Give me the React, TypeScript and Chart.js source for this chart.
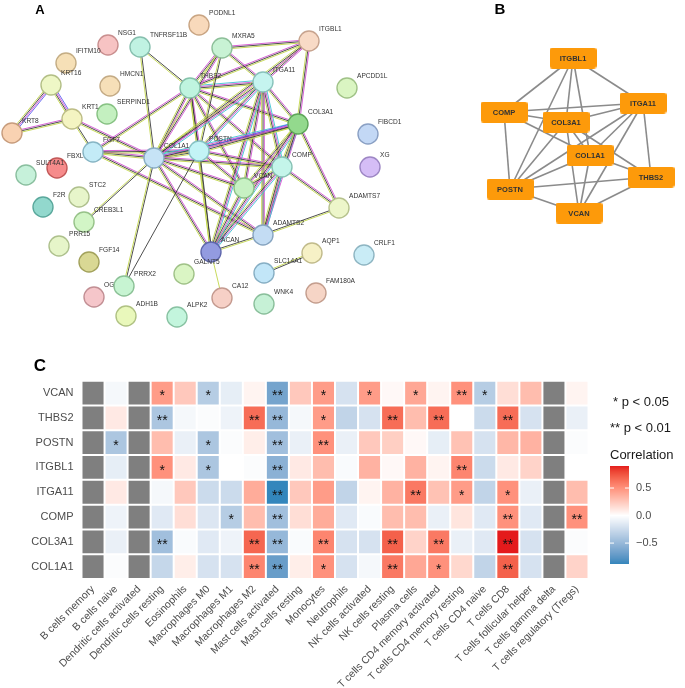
import React, { useEffect, useRef } from 'react';
import { Chart, registerables } from 'chart.js';

Chart.register(...registerables);

const FONT = '"Liberation Sans", Arial, Helvetica, sans-serif';

// ---------------- Panel A: STRING network ----------------
const netNodeNames = ['PODNL1', 'NSG1', 'TNFRSF11B', 'IFITM10', 'KRT16', 'HMCN1', 'THBS2', 'SERPIND1', 'KRT1', 'KRT8', 'FGF7', 'COL1A1', 'POSTN', 'MXRA5', 'ITGA11', 'ITGBL1', 'APCDD1L', 'COL3A1', 'FIBCD1', 'XG', 'COMP', 'VCAN', 'ADAMTS7', 'ADAMTS2', 'ACAN', 'GALNT5', 'SULT4A1', 'FBXL', 'F2R', 'STC2', 'CREB3L1', 'PRR15', 'FGF14', 'PRRX2', 'OGN', 'ADH1B', 'ALPK2', 'CA12', 'AQP1', 'CRLF1', 'SLC14A1', 'FAM180A', 'WNK4'];
const netNodeX = [199, 108, 140, 66, 51, 110, 190, 107, 72, 12, 93, 154, 199, 222, 263, 309, 347, 298, 368, 370, 282, 244, 339, 263, 211, 184, 26, 57, 43, 79, 84, 59, 89, 124, 94, 126, 177, 222, 312, 364, 264, 316, 264];
const netNodeY = [25, 45, 47, 63, 85, 86, 88, 114, 119, 133, 152, 158, 151, 48, 82, 41, 88, 124, 134, 167, 167, 188, 208, 235, 252, 274, 175, 168, 207, 197, 222, 246, 262, 286, 297, 316, 317, 298, 253, 255, 273, 293, 304];
const netNodeFill = ['#f8d9bb', '#f7c3c3', '#c0f2e2', '#f6e0b7', '#eef7c6', '#f6dfb8', '#bff4df', '#c4f0c0', '#f4f4c2', '#f9d2b2', '#c3ebf7', '#c6e3f6', '#c3f4f6', '#c8f2d4', '#c5f4ef', '#f8dac6', '#daf5c2', '#93d98d', '#c3d8f5', '#d5bdf6', '#c4f5ea', '#c7f1c3', '#edf6ca', '#c3dcf3', '#939be0', '#daf5c4', '#c6f1da', '#f68b8b', '#92d8cd', '#e7f5ca', '#d2f5c6', '#e6f5c9', '#d9d894', '#c7f4d2', '#f5c6ca', '#e9f8bb', '#c3f5dd', '#f6d0c6', '#f6f1c6', '#c9ecf6', '#c2e6f8', '#f6d5c6', '#c6f1d6'];
const netNodeBorder = ['#c9a583', '#c98f8f', '#86bfae', '#c4ad84', '#b3bf86', '#c4ab85', '#84c2aa', '#87c283', '#bdbd86', '#c79c7c', '#87b5c4', '#8aaec4', '#87c2c4', '#8dbf99', '#88c2bb', '#c7a38e', '#a0c287', '#5ea659', '#8aa0c4', '#9d86c4', '#88c2b5', '#8bc087', '#b6c28d', '#86a4c0', '#5f67ad', '#a0c288', '#8abf9f', '#c25858', '#5aa89c', '#afc08d', '#97c289', '#aec18d', '#a3a25c', '#8bc196', '#c28f94', '#b0c283', '#88c2a2', '#c49a8f', '#c1bb8b', '#8eb5c2', '#87afc4', '#c49e8e', '#8abf9b'];
// labels that sit underneath a neighbouring node in the reference
const netLabelsUnder = ['FBXL', 'OGN'];
// evidence channels: m = experiments, k = co-expression, y = text-mining, c = databases, b = homology
const netEdges: [string, string, string][] = [
  ['KRT16', 'KRT8', 'bmky'], ['KRT16', 'KRT1', 'bmky'], ['KRT8', 'KRT1', 'mky'], ['KRT1', 'FGF7', 'ky'], ['KRT1', 'COL1A1', 'mky'],
  ['FGF7', 'COL1A1', 'mky'], ['FGF7', 'POSTN', 'mky'], ['FGF7', 'THBS2', 'mky'], ['FGF7', 'ADAMTS2', 'mky'],
  ['TNFRSF11B', 'THBS2', 'ky'], ['TNFRSF11B', 'COL1A1', 'ky'],
  ['THBS2', 'MXRA5', 'mky'], ['THBS2', 'ITGA11', 'cmky'], ['THBS2', 'COL1A1', 'mky'], ['THBS2', 'POSTN', 'mky'], ['THBS2', 'COL3A1', 'mky'], ['THBS2', 'COMP', 'mky'], ['THBS2', 'VCAN', 'mky'], ['THBS2', 'ACAN', 'ky'], ['THBS2', 'ITGBL1', 'mky'],
  ['MXRA5', 'ITGBL1', 'mky'], ['MXRA5', 'ITGA11', 'mky'], ['MXRA5', 'COL1A1', 'mky'], ['MXRA5', 'POSTN', 'ky'],
  ['ITGBL1', 'ITGA11', 'mky'], ['ITGBL1', 'COL3A1', 'mky'], ['ITGBL1', 'COL1A1', 'mky'],
  ['ITGA11', 'COL1A1', 'cmky'], ['ITGA11', 'POSTN', 'cmky'], ['ITGA11', 'COL3A1', 'mky'], ['ITGA11', 'COMP', 'cmky'], ['ITGA11', 'VCAN', 'mky'], ['ITGA11', 'ACAN', 'cmky'], ['ITGA11', 'ADAMTS2', 'mky'],
  ['COL1A1', 'POSTN', 'cmky'], ['COL1A1', 'COL3A1', 'cmky'], ['COL1A1', 'COMP', 'mky'], ['COL1A1', 'VCAN', 'mky'], ['COL1A1', 'ACAN', 'mky'], ['COL1A1', 'ADAMTS2', 'mky'], ['COL1A1', 'PRRX2', 'ky'], ['COL1A1', 'CREB3L1', 'ky'],
  ['POSTN', 'COL3A1', 'bmky'], ['POSTN', 'COMP', 'mky'], ['POSTN', 'VCAN', 'mky'], ['POSTN', 'ACAN', 'ky'], ['POSTN', 'PRRX2', 'k'],
  ['COL3A1', 'COMP', 'cmky'], ['COL3A1', 'VCAN', 'mky'], ['COL3A1', 'ACAN', 'cmky'], ['COL3A1', 'ADAMTS2', 'mky'], ['COL3A1', 'ADAMTS7', 'mky'],
  ['COMP', 'VCAN', 'mky'], ['COMP', 'ACAN', 'cmky'], ['COMP', 'ADAMTS2', 'cmky'], ['COMP', 'ADAMTS7', 'mky'],
  ['VCAN', 'ACAN', 'cmky'], ['ACAN', 'ADAMTS2', 'ky'], ['ACAN', 'CA12', 'y'], ['ADAMTS2', 'ADAMTS7', 'ky'], ['AQP1', 'SLC14A1', 'ky'],
];
const EDGE_COLORS: Record<string, string> = { m: '#d14fd1', k: '#3a3a3a', y: '#c2d64a', c: '#3cc4d2', b: '#5b5bf0' };

// ---------------- Panel B: hub genes ----------------
const hubNames = ['ITGBL1', 'ITGA11', 'COMP', 'COL3A1', 'COL1A1', 'THBS2', 'POSTN', 'VCAN'];
const hubX = [573, 643, 504, 566, 590, 651, 510, 579];
const hubY = [58, 103, 112, 122, 155, 177, 189, 213];
const hubEdges: [string, string][] = [
  ['ITGBL1', 'COMP'], ['ITGBL1', 'ITGA11'], ['ITGBL1', 'POSTN'], ['ITGBL1', 'COL3A1'], ['ITGBL1', 'COL1A1'],
  ['COMP', 'ITGA11'], ['COMP', 'COL3A1'], ['COMP', 'COL1A1'], ['COMP', 'POSTN'],
  ['ITGA11', 'COL3A1'], ['ITGA11', 'COL1A1'], ['ITGA11', 'POSTN'], ['ITGA11', 'VCAN'], ['ITGA11', 'THBS2'],
  ['COL3A1', 'COL1A1'], ['COL3A1', 'POSTN'], ['COL3A1', 'VCAN'], ['COL3A1', 'THBS2'],
  ['COL1A1', 'POSTN'], ['COL1A1', 'THBS2'], ['COL1A1', 'VCAN'],
  ['POSTN', 'THBS2'], ['POSTN', 'VCAN'], ['THBS2', 'VCAN'],
];

// ---------------- Panel C: immune correlation heatmap ----------------
const cellTypes = ['B cells memory', 'B cells naive', 'Dendritic cells activated', 'Dendritic cells resting', 'Eosinophils', 'Macrophages M0', 'Macrophages M1', 'Macrophages M2', 'Mast cells activated', 'Mast cells resting', 'Monocytes', 'Neutrophils', 'NK cells activated', 'NK cells resting', 'Plasma cells', 'T cells CD4 memory activated', 'T cells CD4 memory resting', 'T cells CD4 naive', 'T cells CD8', 'T cells follicular helper', 'T cells gamma delta', 'T cells regulatory (Tregs)'];
const corVCAN = [null, -0.05, null, 0.45, 0.25, -0.35, -0.12, 0.05, -0.65, 0.25, 0.45, -0.2, 0.45, 0.03, 0.4, 0.05, 0.5, -0.35, 0.15, 0.3, null, 0.05];
const sigVCAN = ['', '', '', '*', '', '*', '', '', '**', '', '*', '', '*', '', '*', '', '**', '*', '', '', '', ''];
const corTHBS2 = [null, 0.1, null, -0.4, -0.05, -0.02, -0.08, 0.65, -0.5, -0.05, 0.45, -0.3, -0.2, 0.65, 0.3, 0.65, 0.0, -0.25, 0.65, -0.2, null, -0.1];
const sigTHBS2 = ['', '', '', '**', '', '', '', '**', '**', '', '*', '', '', '**', '', '**', '', '', '**', '', '', ''];
const corPOSTN = [null, -0.4, null, 0.3, -0.1, -0.4, -0.02, 0.08, -0.45, -0.1, 0.5, -0.1, 0.25, 0.22, 0.03, -0.12, 0.28, -0.2, 0.33, 0.35, null, -0.02];
const sigPOSTN = ['', '*', '', '', '', '*', '', '', '**', '', '**', '', '', '', '', '', '', '', '', '', '', ''];
const corITGBL1 = [null, -0.12, null, 0.5, 0.1, -0.4, 0.0, -0.02, -0.55, 0.1, 0.3, -0.03, 0.35, 0.03, 0.35, 0.05, 0.55, -0.25, 0.1, 0.2, null, 0.0];
const sigITGBL1 = ['', '', '', '*', '', '*', '', '', '**', '', '', '', '', '', '', '', '**', '', '', '', '', ''];
const corITGA11 = [null, 0.1, null, -0.05, 0.25, -0.25, -0.25, 0.38, -0.88, 0.25, 0.45, -0.3, 0.05, 0.35, 0.6, 0.28, 0.45, -0.3, 0.5, -0.1, null, 0.3];
const sigITGA11 = ['', '', '', '', '', '', '', '', '**', '', '', '', '', '', '**', '', '*', '', '*', '', '', ''];
const corCOMP = [null, -0.08, null, -0.15, 0.15, -0.17, -0.35, 0.3, -0.45, 0.15, 0.38, -0.15, -0.03, 0.3, 0.3, -0.1, 0.12, -0.15, 0.5, -0.15, null, 0.5];
const sigCOMP = ['', '', '', '', '', '', '*', '', '**', '', '', '', '', '', '', '', '', '', '**', '', '', '**'];
const corCOL3A1 = [null, -0.1, null, -0.45, -0.03, -0.15, -0.08, 0.68, -0.5, -0.03, 0.55, -0.2, -0.2, 0.7, 0.2, 0.6, -0.1, -0.15, 0.9, -0.2, null, -0.02];
const sigCOL3A1 = ['', '', '', '**', '', '', '', '**', '**', '', '**', '', '', '**', '', '**', '', '', '**', '', '', ''];
const corCOL1A1 = [null, -0.02, null, -0.28, 0.08, -0.2, -0.2, 0.55, -0.7, 0.08, 0.5, -0.2, -0.05, 0.6, 0.4, 0.5, 0.18, -0.3, 0.7, -0.2, null, 0.2];
const sigCOL1A1 = ['', '', '', '', '', '', '', '**', '**', '', '*', '', '', '**', '', '*', '', '', '**', '', '', ''];

const heatRows: { name: string; cor: (number | null)[]; sig: string[] }[] = [
  { name: 'VCAN', cor: corVCAN, sig: sigVCAN },
  { name: 'THBS2', cor: corTHBS2, sig: sigTHBS2 },
  { name: 'POSTN', cor: corPOSTN, sig: sigPOSTN },
  { name: 'ITGBL1', cor: corITGBL1, sig: sigITGBL1 },
  { name: 'ITGA11', cor: corITGA11, sig: sigITGA11 },
  { name: 'COMP', cor: corCOMP, sig: sigCOMP },
  { name: 'COL3A1', cor: corCOL3A1, sig: sigCOL3A1 },
  { name: 'COL1A1', cor: corCOL1A1, sig: sigCOL1A1 },
];
const colorbarTicks = [0.5, 0.0, -0.5];

// ---------- colour helpers (Lab interpolation like ggplot gradient2) ----------
const LOW = '#2b83ba';
const HIGH = '#e41a1c';
const NA_GRAY = '#7f7f7f';
function hexToRgb(h: string) { const n = parseInt(h.slice(1), 16); return [(n >> 16) & 255, (n >> 8) & 255, n & 255]; }
function toLin(c: number) { c /= 255; return c <= 0.04045 ? c / 12.92 : Math.pow((c + 0.055) / 1.055, 2.4); }
function fromLin(c: number) { const v = c <= 0.0031308 ? 12.92 * c : 1.055 * Math.pow(Math.max(c, 0), 1 / 2.4) - 0.055; return Math.round(Math.max(0, Math.min(1, v)) * 255); }
function rgbToLab(rgb: number[]) {
  const R = toLin(rgb[0]), G = toLin(rgb[1]), B = toLin(rgb[2]);
  const X = (0.4124 * R + 0.3576 * G + 0.1805 * B) / 0.95047;
  const Y = 0.2126 * R + 0.7152 * G + 0.0722 * B;
  const Z = (0.0193 * R + 0.1192 * G + 0.9505 * B) / 1.08883;
  const f = (t: number) => (t > 0.008856 ? Math.cbrt(t) : 7.787 * t + 16 / 116);
  return [116 * f(Y) - 16, 500 * (f(X) - f(Y)), 200 * (f(Y) - f(Z))];
}
function labToRgb(lab: number[]) {
  const fy = (lab[0] + 16) / 116, fx = fy + lab[1] / 500, fz = fy - lab[2] / 200;
  const inv = (t: number) => (t * t * t > 0.008856 ? t * t * t : (t - 16 / 116) / 7.787);
  const X = inv(fx) * 0.95047, Y = inv(fy), Z = inv(fz) * 1.08883;
  const R = 3.2406 * X - 1.5372 * Y - 0.4986 * Z;
  const G = -0.9689 * X + 1.8758 * Y + 0.0415 * Z;
  const B = 0.0557 * X - 0.204 * Y + 1.057 * Z;
  return [fromLin(R), fromLin(G), fromLin(B)];
}
const LAB_W = rgbToLab([255, 255, 255]);
const LAB_LOW = rgbToLab(hexToRgb(LOW));
const LAB_HIGH = rgbToLab(hexToRgb(HIGH));
const allVals = heatRows.flatMap((r) => r.cor.filter((v) => v !== null) as number[]);
const corMin = Math.min(...allVals);
const corMax = Math.max(...allVals);
const corAbs = Math.max(Math.abs(corMin), Math.abs(corMax));
function corColor(v: number) {
  const t = Math.max(-1, Math.min(1, v / corAbs));
  const end = t < 0 ? LAB_LOW : LAB_HIGH;
  const a = Math.abs(t);
  const lab = [0, 1, 2].map((k) => LAB_W[k] + (end[k] - LAB_W[k]) * a);
  const c = labToRgb(lab);
  return `rgb(${c[0]},${c[1]},${c[2]})`;
}

export default function App() {
  const netRef = useRef<HTMLCanvasElement>(null);
  const heatRef = useRef<HTMLCanvasElement>(null);

  useEffect(() => {
    // hub node image (orange rounded rectangle)
    const hubImg = document.createElement('canvas');
    hubImg.width = 47;
    hubImg.height = 21;
    const hctx = hubImg.getContext('2d')!;
    hctx.fillStyle = '#fd9a0a';
    hctx.beginPath();
    (hctx as any).roundRect(0, 0, 47, 21, 3);
    hctx.fill();

    const idx = (n: string) => netNodeNames.indexOf(n);
    const hidx = (n: string) => hubNames.indexOf(n);

    const drawNetLabels = (chart: any, under: boolean) => {
      const { ctx, scales } = chart;
      ctx.save();
      ctx.font = `6.6px ${FONT}`;
      ctx.fillStyle = '#333333';
      ctx.textAlign = 'left';
      ctx.textBaseline = 'middle';
      netNodeNames.forEach((nm, i) => {
        if (netLabelsUnder.includes(nm) !== under) return;
        ctx.fillText(nm, scales.x.getPixelForValue(netNodeX[i]) + 10, scales.y.getPixelForValue(netNodeY[i]) - 11.5);
      });
      ctx.restore();
    };

    const netPlugin = {
      id: 'netDecor',
      beforeDatasetsDraw(chart: any) {
        const { ctx, scales } = chart;
        const sx = scales.x, sy = scales.y;
        ctx.save();
        netEdges.forEach(([a, b, code]) => {
          const i = idx(a), j = idx(b);
          const x1 = sx.getPixelForValue(netNodeX[i]), y1 = sy.getPixelForValue(netNodeY[i]);
          const x2 = sx.getPixelForValue(netNodeX[j]), y2 = sy.getPixelForValue(netNodeY[j]);
          const len = Math.hypot(x2 - x1, y2 - y1) || 1;
          const nx = -(y2 - y1) / len, ny = (x2 - x1) / len;
          const n = code.length;
          code.split('').forEach((c, k) => {
            const off = (k - (n - 1) / 2) * 1.3;
            ctx.strokeStyle = EDGE_COLORS[c];
            ctx.lineWidth = 0.9;
            ctx.beginPath();
            ctx.moveTo(x1 + nx * off, y1 + ny * off);
            ctx.lineTo(x2 + nx * off, y2 + ny * off);
            ctx.stroke();
          });
        });
        ctx.restore();
        drawNetLabels(chart, true);
      },
      afterDatasetsDraw(chart: any) {
        drawNetLabels(chart, false);
        const { ctx, scales } = chart;
        ctx.save();
        ctx.font = `bold 7.5px ${FONT}`;
        ctx.fillStyle = '#333333';
        ctx.textAlign = 'center';
        ctx.textBaseline = 'middle';
        hubNames.forEach((nm, i) => {
          ctx.fillText(nm, scales.x.getPixelForValue(hubX[i]), scales.y.getPixelForValue(hubY[i]) + 0.5);
        });
        ctx.font = `bold 13px ${FONT}`;
        ctx.fillStyle = '#000';
        ctx.fillText('A', 40, 10);
        ctx.font = `bold 15px ${FONT}`;
        ctx.fillText('B', 500, 10);
        ctx.restore();
      },
    };

    const net = new Chart(netRef.current!, {
      type: 'scatter',
      data: {
        datasets: [
          {
            label: 'STRING network',
            data: netNodeNames.map((_, i) => ({ x: netNodeX[i], y: netNodeY[i] })),
            pointRadius: 10,
            pointBackgroundColor: netNodeFill,
            pointBorderColor: netNodeBorder,
            pointBorderWidth: 1.4,
            order: 0,
            clip: false as any,
          },
          {
            label: 'Hub genes',
            data: hubNames.map((_, i) => ({ x: hubX[i], y: hubY[i] })),
            pointStyle: hubImg as any,
            pointRadius: 10,
            order: 0,
            clip: false as any,
          },
          ...hubEdges.map(([a, b]) => ({
            label: `${a}-${b}`,
            data: [
              { x: hubX[hidx(a)], y: hubY[hidx(a)] },
              { x: hubX[hidx(b)], y: hubY[hidx(b)] },
            ],
            showLine: true,
            borderColor: '#8b8b8b',
            borderWidth: 1.6,
            pointRadius: 0,
            order: 1,
            clip: false as any,
          })),
        ],
      },
      options: {
        responsive: false,
        animation: false,
        devicePixelRatio: 1,
        events: [],
        layout: { padding: 0, autoPadding: false },
        plugins: { legend: { display: false }, tooltip: { enabled: false } },
        scales: {
          x: { type: 'linear', min: 0, max: 685, display: false },
          y: { type: 'linear', min: 0, max: 330, reverse: true, display: false },
        },
      } as any,
      plugins: [netPlugin],
    });

    const bottomUp = [...heatRows].reverse();

    const heatPlugin = {
      id: 'heatDecor',
      afterDatasetsDraw(chart: any) {
        const { ctx } = chart;
        ctx.save();
        ctx.font = `14px ${FONT}`;
        ctx.fillStyle = '#111111';
        ctx.textAlign = 'center';
        ctx.textBaseline = 'middle';
        bottomUp.forEach((r, di) => {
          const meta = chart.getDatasetMeta(di);
          meta.data.forEach((el: any, ci: number) => {
            const s = r.sig[ci];
            if (!s) return;
            const p = el.getProps(['x', 'y', 'base'], true);
            ctx.fillText(s, p.x, (p.y + p.base) / 2 + 3.5);
          });
        });
        ctx.restore();
      },
      afterDraw(chart: any) {
        const { ctx } = chart;
        ctx.save();
        ctx.fillStyle = '#000';
        ctx.font = `bold 17px ${FONT}`;
        ctx.textAlign = 'center';
        ctx.textBaseline = 'middle';
        ctx.fillText('C', 40, 36);
        // significance legend
        ctx.textAlign = 'left';
        ctx.font = `13px ${FONT}`;
        ctx.fillStyle = '#1a1a1a';
        ctx.fillText('* p < 0.05', 613, 72);
        ctx.fillText('** p < 0.01', 610, 98);
        ctx.fillText('Correlation', 610, 125);
        // colour bar
        const bx = 610, bw = 19, top = 136, h = 98;
        for (let k = 0; k < h; k++) {
          const v = corMax - ((k + 0.5) / h) * (corMax - corMin);
          ctx.fillStyle = corColor(v);
          ctx.fillRect(bx, top + k, bw, 1);
        }
        ctx.font = `11px ${FONT}`;
        ctx.fillStyle = '#4d4d4d';
        colorbarTicks.forEach((v) => {
          const y = top + ((corMax - v) / (corMax - corMin)) * h;
          ctx.strokeStyle = '#ffffff';
          ctx.lineWidth = 1;
          ctx.beginPath();
          ctx.moveTo(bx, y); ctx.lineTo(bx + 4, y);
          ctx.moveTo(bx + bw - 4, y); ctx.lineTo(bx + bw, y);
          ctx.stroke();
          ctx.fillText(v < 0 ? `\u2212${Math.abs(v).toFixed(1)}` : v.toFixed(1), 636, y);
        });
        ctx.restore();
      },
    };

    const heat = new Chart(heatRef.current!, {
      type: 'bar',
      data: {
        labels: cellTypes,
        datasets: bottomUp.map((r) => ({
          label: r.name,
          data: r.cor.map(() => 1),
          backgroundColor: r.cor.map((v) => (v === null ? NA_GRAY : corColor(v))),
          borderColor: '#ffffff',
          borderWidth: 1,
          borderSkipped: false as any,
          inflateAmount: 0,
          barPercentage: 1,
          categoryPercentage: 1,
        })),
      },
      options: {
        responsive: false,
        animation: false,
        devicePixelRatio: 1,
        events: [],
        layout: { padding: { top: 50.7, right: 96.5, left: 0, bottom: 0 }, autoPadding: false },
        plugins: { legend: { display: false }, tooltip: { enabled: false } },
        scales: {
          x: {
            stacked: true,
            grid: { display: false, drawTicks: false },
            border: { display: false },
            ticks: { autoSkip: false, maxRotation: 45, minRotation: 45, color: '#4d4d4d', font: { family: FONT, size: 10.5 }, padding: 4 },
            afterFit: (s: any) => { s.height = 109; },
          },
          y: {
            type: 'linear',
            stacked: true,
            min: 0,
            max: heatRows.length,
            grid: { display: false, drawTicks: false },
            border: { display: false },
            afterBuildTicks: (s: any) => { s.ticks = bottomUp.map((_, i) => ({ value: i + 0.5 })); },
            ticks: {
              color: '#4d4d4d',
              font: { family: FONT, size: 11 },
              padding: 8,
              callback: (v: any) => (bottomUp[Math.floor(Number(v))] ? bottomUp[Math.floor(Number(v))].name : ''),
            },
            afterFit: (s: any) => { s.width = 81.5; },
          },
        },
      } as any,
      plugins: [heatPlugin],
    });

    return () => {
      net.destroy();
      heat.destroy();
    };
  }, []);

  return (
    <div style={{ position: 'absolute', left: 0, top: 0, width: 685, height: 688, background: '#ffffff' }}>
      <canvas ref={netRef} width={685} height={330} style={{ position: 'absolute', left: 0, top: 0, width: 685, height: 330 }} />
      <canvas ref={heatRef} width={685} height={358} style={{ position: 'absolute', left: 0, top: 330, width: 685, height: 358 }} />
    </div>
  );
}
